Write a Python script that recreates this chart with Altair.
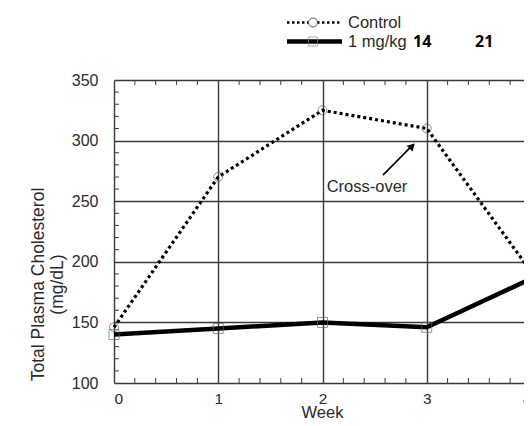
import altair as alt
import pandas as pd

weeks = [0, 1, 2, 3, 4]
control = [146, 270, 325, 310, 192]
dose_1mg = [140, 145, 150, 146, 186]
y_ticks = [100, 150, 200, 250, 300, 350]
x_ticks = [0, 1, 2, 3, 4]
y_minor = [v for v in range(110, 350, 10) if v % 50 != 0]
x_minor = [round(i * 0.2, 1) for i in range(1, 20) if i % 5 != 0]

W, H = 417, 303
FONT = "Liberation Sans"
DARK = "#3a3a3a"
TXT = "#2a2a2a"

xs = alt.Scale(domain=[0, 4], nice=False, zero=False)
ys = alt.Scale(domain=[100, 350], nice=False, zero=False)
xaxis = alt.Axis(values=x_ticks, title="Week", grid=True, ticks=False, tickSize=0, domain=False,
                 labelPadding=8, labelFontSize=15.5, titleFontSize=16.5,
                 labelFont=FONT, titleFont=FONT, labelColor=TXT, titleColor=TXT,
                 titleFontWeight="normal", gridColor=DARK, gridWidth=1.4, format="d",
                 titleY=34, titleBaseline="alphabetic", titleX=208, titleAlign="center")
yaxis = alt.Axis(values=y_ticks, title=["Total Plasma Cholesterol", "(mg/dL)"], grid=True,
                 ticks=False, tickSize=0, domain=False, labelPadding=16,
                 labelFontSize=16, titleFontSize=17.5, labelFont=FONT, titleFont=FONT,
                 labelColor=TXT, titleColor=TXT, titleFontWeight="normal",
                 gridColor=DARK, gridWidth=1.4, titleLineHeight=19,
                 titleX=-67, titleY=204, titleAngle=270, titleAlign="center",
                 titleBaseline="bottom")

def X(f):
    return alt.X(f, type="quantitative", scale=xs, axis=xaxis)

def Y(f):
    return alt.Y(f, type="quantitative", scale=ys, axis=yaxis)

df = pd.DataFrame({"week": weeks, "control": control, "dose": dose_1mg})

ctrl_line = alt.Chart(df).mark_line(color="black", strokeWidth=3.2, strokeDash=[3, 3]).encode(
    x=X("week"), y=Y("control"))
ctrl_pts = alt.Chart(df).mark_point(shape="circle", size=80, color="#555", strokeWidth=1,
                                    filled=False).encode(x=X("week"), y=Y("control"))
dose_line = alt.Chart(df).mark_line(color="black", strokeWidth=4.5).encode(
    x=X("week"), y=Y("dose"))
dose_pts = alt.Chart(df).mark_point(shape="square", size=100, color="#666", strokeWidth=1,
                                    filled=False).encode(x=X("week"), y=Y("dose"))

ymin = pd.DataFrame({"v": y_minor})
xmin = pd.DataFrame({"v": x_minor})
tick_style = dict(color=DARK, strokeWidth=1)
left_t = alt.Chart(ymin).mark_rule(**tick_style).encode(y=Y("v"), x=alt.value(0), x2=alt.value(5))
right_t = alt.Chart(ymin).mark_rule(**tick_style).encode(y=Y("v"), x=alt.value(W - 5), x2=alt.value(W))
top_t = alt.Chart(xmin).mark_rule(**tick_style).encode(x=X("v"), y=alt.value(0), y2=alt.value(5))
bot_t = alt.Chart(xmin).mark_rule(**tick_style).encode(x=X("v"), y=alt.value(H - 5), y2=alt.value(H))

# annotation
ann = pd.DataFrame({"x": [2.427], "y": [262], "t": ["Cross-over"]})
ann_text = alt.Chart(ann).mark_text(font=FONT, fontSize=16.5, color=TXT, baseline="middle").encode(
    x=X("x"), y=Y("y"), text="t:N")
arrow = pd.DataFrame({"x": [2.58], "y": [271.5], "x2": [2.85], "y2": [295]})
arrow_line = alt.Chart(arrow).mark_rule(color="black", strokeWidth=1.6).encode(
    x=X("x"), y=Y("y"), x2="x2:Q", y2="y2:Q")
head = pd.DataFrame({"x": [2.86], "y": [295.5]})
arrow_head = alt.Chart(head).mark_point(shape="triangle-up", size=70, filled=True, color="black",
                                        angle=45, opacity=1).encode(x=X("x"), y=Y("y"))

# legend (drawn manually above the plot)
one = pd.DataFrame({"a": [0]})
L1, L2 = -57.5, -38.5
leg_ctrl_line = alt.Chart(one).mark_rule(color="black", strokeWidth=2.6, strokeDash=[2.5, 2.5]).encode(
    x=alt.value(173), x2=alt.value(228), y=alt.value(L1))
leg_ctrl_pt = alt.Chart(one).mark_point(shape="circle", size=80, stroke="#555", strokeWidth=1,
                                        fill="white", filled=True, opacity=1).encode(
    x=alt.value(199), y=alt.value(L1))
leg_ctrl_txt = alt.Chart(one).mark_text(text="Control", font=FONT, fontSize=16.5, color=TXT,
                                        align="left", baseline="middle").encode(
    x=alt.value(234), y=alt.value(L1))
leg_dose_line = alt.Chart(one).mark_rule(color="black", strokeWidth=4.5).encode(
    x=alt.value(173), x2=alt.value(228), y=alt.value(L2))
leg_dose_pt = alt.Chart(one).mark_point(shape="square", size=81, color="#888", strokeWidth=1,
                                        filled=False).encode(x=alt.value(199), y=alt.value(L2))
leg_dose_txt = alt.Chart(one).mark_text(text="1 mg/kg", font=FONT, fontSize=16.5, color=TXT,
                                        align="left", baseline="middle").encode(
    x=alt.value(234), y=alt.value(L2))
leg_14 = alt.Chart(one).mark_text(text="14", font="Open Sans", fontSize=16, fontWeight="bold",
                                  color="black", align="left", baseline="middle").encode(
    x=alt.value(299), y=alt.value(L2))
leg_21 = alt.Chart(one).mark_text(text="21", font="Open Sans", fontSize=16, fontWeight="bold",
                                  color="black", align="left", baseline="middle").encode(
    x=alt.value(361), y=alt.value(L2))

chart = alt.layer(
    left_t, right_t, top_t, bot_t,
    ctrl_line, dose_line, ctrl_pts, dose_pts,
    arrow_line, arrow_head, ann_text,
    leg_ctrl_line, leg_ctrl_pt, leg_ctrl_txt, leg_dose_line, leg_dose_pt, leg_dose_txt,
    leg_14, leg_21,
).properties(
    width=W, height=H,
    autosize=alt.AutoSizeParams(type="none"),
    padding={"left": 106, "top": 72, "right": -7, "bottom": 35},
).configure_view(stroke=DARK, strokeWidth=1.5).configure(background="white")

chart.save("out.html", embed_options={"renderer": "svg", "actions": False})
